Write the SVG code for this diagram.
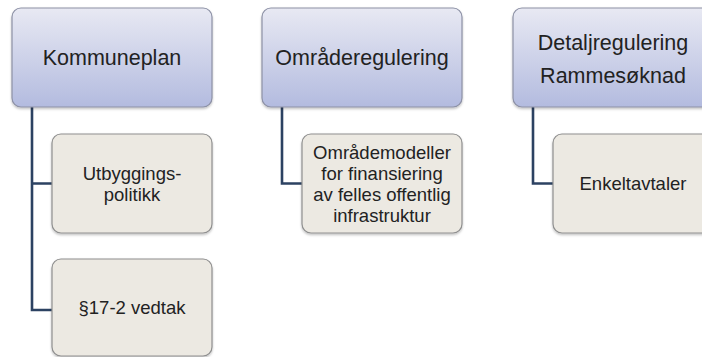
<svg xmlns="http://www.w3.org/2000/svg" width="702" height="357" viewBox="0 0 702 357">
  <defs>
    <linearGradient id="pg" x1="0" y1="0" x2="0" y2="1">
      <stop offset="0" stop-color="#e8e9f3"/>
      <stop offset="1" stop-color="#b3bbdf"/>
    </linearGradient>
    <filter id="sh" x="-10%" y="-10%" width="120%" height="130%">
      <feDropShadow dx="0" dy="1.5" stdDeviation="1.2" flood-color="#000" flood-opacity="0.25"/>
    </filter>
  </defs>
  <style>
    .parent { fill: url(#pg); stroke: #8d91a6; stroke-width: 1.2; filter: url(#sh); }
    .child { fill: #ece9e2; stroke: #8f8f8f; stroke-width: 1.2; filter: url(#sh); }
    .pt { font-family: "Liberation Sans", Arial, sans-serif; font-size: 21.5px; fill: #222222; text-anchor: middle; }
    .ct { font-family: "Liberation Sans", Arial, sans-serif; font-size: 18.5px; fill: #222222; text-anchor: middle; }
    .conn { fill: none; stroke: #2c4262; stroke-width: 2.6; }
  </style>
  <rect width="702" height="357" fill="#ffffff"/>

  <g id="connectors">
    <path class="conn" d="M32,107 V310 H52 M32,183.5 H52"/>
    <path class="conn" d="M282,107 V183.5 H302"/>
    <path class="conn" d="M533,107 V183.5 H553"/>
  </g>

  <g id="kommuneplan">
    <rect class="parent" x="12" y="8" width="200" height="99" rx="9"/>
    <text class="pt" x="112" y="65">Kommuneplan</text>
  </g>
  <g id="utbyggingspolitikk">
    <rect class="child" x="52" y="134" width="160" height="99" rx="9"/>
    <text class="ct" x="132" y="180">Utbyggings-</text>
    <text class="ct" x="132" y="201">politikk</text>
  </g>
  <g id="vedtak">
    <rect class="child" x="52" y="259" width="160" height="97" rx="9"/>
    <text class="ct" x="132" y="314">§17-2 vedtak</text>
  </g>

  <g id="omraderegulering">
    <rect class="parent" x="262" y="8" width="200" height="99" rx="9"/>
    <text class="pt" x="362" y="65">Områderegulering</text>
  </g>
  <g id="omrademodeller">
    <rect class="child" x="302" y="134" width="160" height="99" rx="9"/>
    <text class="ct" x="382" y="158.5">Områdemodeller</text>
    <text class="ct" x="382" y="179.5">for finansiering</text>
    <text class="ct" x="382" y="200.5">av felles offentlig</text>
    <text class="ct" x="382" y="221.5">infrastruktur</text>
  </g>

  <g id="detaljregulering">
    <rect class="parent" x="513" y="8" width="200" height="99" rx="9"/>
    <text class="pt" x="613" y="49.5">Detaljregulering</text>
    <text class="pt" x="613" y="82.5">Rammesøknad</text>
  </g>
  <g id="enkeltavtaler">
    <rect class="child" x="553" y="134" width="160" height="99" rx="9"/>
    <text class="ct" x="633" y="190">Enkeltavtaler</text>
  </g>
</svg>
